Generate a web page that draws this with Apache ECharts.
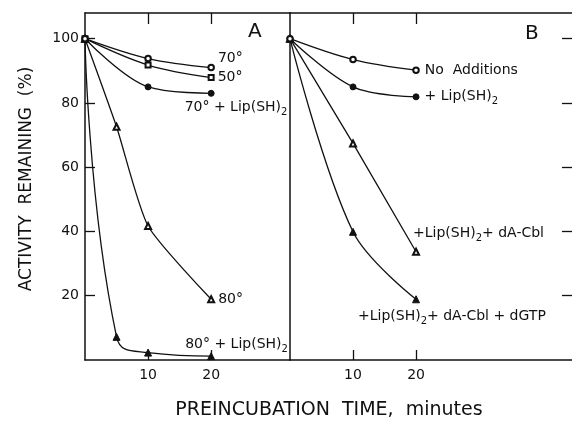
<!DOCTYPE html>
<html><head><meta charset="utf-8">
<script src="https://cdn.jsdelivr.net/npm/echarts@6/dist/echarts.min.js"></script>
<style>html,body{margin:0;padding:0;background:#fff}#c{width:572px;height:421px}</style>
</head><body><div id="c"></div>
<script>
// ---- data ----
const timesSlow = [0, 10, 20];
const timesFast = [0, 5, 10, 20];
const a70 = [100, 93.8, 91.0];
const a50 = [100, 91.8, 87.9];
const a70Lip = [100, 85.0, 83.0];
const a80 = [100, 72.6, 41.7, 18.9];
const a80Lip = [100, 7.2, 2.3, 1.2];
const bNone = [100, 93.5, 90.2];
const bLip = [100, 85.0, 81.9];
const bLipCbl = [100, 67.4, 33.7];
const bLipCblGtp = [100, 39.9, 18.9];
const xTicks = [10, 20];
const yTicks = [20, 40, 60, 80, 100];
const yLabel = 'ACTIVITY  REMAINING  (%)';
const xLabel = 'PREINCUBATION  TIME,  minutes';

const FONT = 'DejaVu Sans';
const INK = '#111';
const rich = {
  m: {fontFamily: FONT, fontSize: 14, color: INK, lineHeight: 20, verticalAlign: 'middle'},
  s: {fontFamily: FONT, fontSize: 10, color: INK, lineHeight: 20, verticalAlign: 'bottom'}
};
const SIZES = {emptyCircle: 5.5, emptyRect: 5, emptyTriangle: 6, circle: 6, triangle: 7};

function mk(name, xs, ys, grid, symbol, smooth, labelText, offset, z) {
  const data = xs.map((x, i) => {
    const d = {value: [x, ys[i]]};
    if (i === xs.length - 1) {
      d.label = {show: true, position: 'right', distance: 3, offset: offset,
        formatter: labelText, rich: rich, align: 'left'};
    }
    return d;
  });
  const empty = symbol.indexOf('empty') === 0;
  return {
    name, type: 'line', xAxisIndex: grid * 2, yAxisIndex: grid * 2, data,
    smooth, symbol, symbolSize: SIZES[symbol],
    lineStyle: {color: INK, width: 1.3},
    itemStyle: empty ? {color: INK, borderWidth: 1.2} : {color: INK, borderColor: INK, borderWidth: 1},
    label: {show: false}, animation: false, z: z || 3
  };
}

const axisLineStyle = {onZero: false, lineStyle: {color: INK, width: 1.5}};
function xAxes(gridIndex, max) {
  return [
    {type: 'value', gridIndex, min: 0, max, position: 'bottom',
      axisLine: axisLineStyle, splitLine: {show: false},
      axisTick: {inside: true, length: 10, customValues: xTicks, lineStyle: {color: INK, width: 1.3}},
      axisLabel: {customValues: xTicks, color: INK, fontFamily: FONT, fontSize: 14, margin: 8}},
    {type: 'value', gridIndex, min: 0, max, position: 'top',
      axisLine: axisLineStyle, splitLine: {show: false},
      axisTick: {inside: true, length: 11, customValues: xTicks, lineStyle: {color: INK, width: 1.3}},
      axisLabel: {show: false}}
  ];
}
const option = {
  backgroundColor: '#fff',
  animation: false,
  grid: [
    {left: 85, top: 13, width: 205, height: 347},
    {left: 290, top: 13, width: 282, height: 347}
  ],
  xAxis: [...xAxes(0, 32.5), ...xAxes(1, 44.75)],
  yAxis: [
    {type: 'value', gridIndex: 0, min: 0, max: 108, position: 'left',
      axisLine: {show: true, ...axisLineStyle}, splitLine: {show: false},
      axisTick: {show: true, inside: true, length: 10, customValues: yTicks, lineStyle: {color: INK, width: 1.3}},
      axisLabel: {customValues: yTicks, color: INK, fontFamily: FONT, fontSize: 14, margin: 6}},
    {type: 'value', gridIndex: 0, min: 0, max: 108, position: 'right',
      axisLine: {show: false, onZero: false}, splitLine: {show: false}, axisTick: {show: false}, axisLabel: {show: false}},
    {type: 'value', gridIndex: 1, min: 0, max: 108, position: 'left',
      axisLine: {show: true, ...axisLineStyle}, splitLine: {show: false}, axisTick: {show: false}, axisLabel: {show: false}},
    {type: 'value', gridIndex: 1, min: 0, max: 108, position: 'right',
      axisLine: {show: false, onZero: false}, splitLine: {show: false},
      axisTick: {show: true, inside: true, length: 10, customValues: yTicks, lineStyle: {color: INK, width: 1.3}},
      axisLabel: {show: false}}
  ],
  series: [
    mk('70°', timesSlow, a70, 0, 'emptyCircle', 0.35, '{m|70°}', [0, -9], 5),
    mk('50°', timesSlow, a50, 0, 'emptyRect', 0.35, '{m|50°}', [0, 0]),
    mk('70°+Lip(SH)2', timesSlow, a70Lip, 0, 'circle', 0.35, '{m|70° + Lip(SH)}{s|2}', [-33, 14]),
    mk('80°', timesFast, a80, 0, 'emptyTriangle', 0.2, '{m|80°}', [0, 0]),
    mk('80°+Lip(SH)2', timesFast, a80Lip, 0, 'triangle', 0.5, '{m|80° + Lip(SH)}{s|2}', [-33, -12]),
    mk('No Additions', timesSlow, bNone, 1, 'emptyCircle', 0.35, '{m|No  Additions}', [2, 0], 5),
    mk('+Lip(SH)2', timesSlow, bLip, 1, 'circle', 0.35, '{m|+ Lip(SH)}{s|2}', [2, 0]),
    mk('+Lip(SH)2+dA-Cbl', timesSlow, bLipCbl, 1, 'emptyTriangle', false, '{m|+Lip(SH)}{s|2}{m|+ dA-Cbl}', [-10, -18]),
    mk('+Lip(SH)2+dA-Cbl+dGTP', timesSlow, bLipCblGtp, 1, 'triangle', 0.35, '{m|+Lip(SH)}{s|2}{m|+ dA-Cbl + dGTP}', [-65, 17])
  ],
  graphic: [
    {type: 'text', left: 248, top: 22, style: {text: 'A', font: '20px "' + FONT + '"', fill: INK}},
    {type: 'text', left: 525, top: 24, style: {text: 'B', font: '20px "' + FONT + '"', fill: INK}},
    {type: 'text', x: 329, y: 410, style: {text: xLabel, font: '19px "' + FONT + '"', fill: INK, align: 'center', verticalAlign: 'middle'}},
    {type: 'text', x: 27, y: 179, rotation: Math.PI / 2, style: {text: yLabel, font: '17px "' + FONT + '"', fill: INK, align: 'center', verticalAlign: 'middle'}}
  ]
};
const chart = echarts.init(document.getElementById('c'), null, {renderer: 'canvas'});
chart.setOption(option);
</script></body></html>
